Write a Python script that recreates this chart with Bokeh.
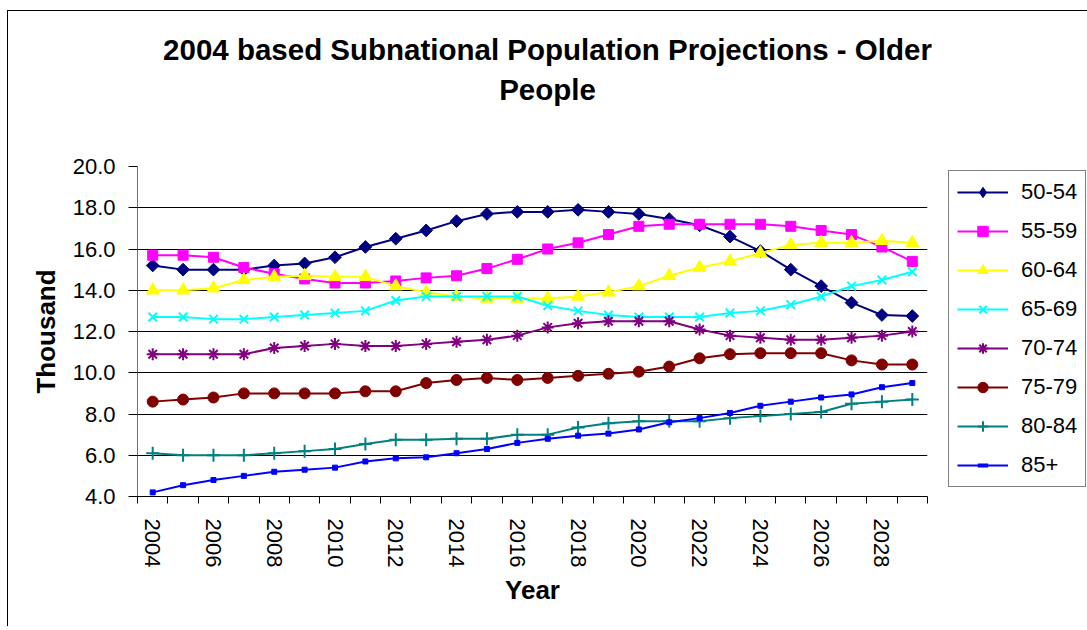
import math
from bokeh.plotting import figure
from bokeh.layouts import column, row
from bokeh.models import (Legend, LegendItem, FixedTicker, NumeralTickFormatter,
                          Range1d, Div)
from bokeh.embed import file_html
from bokeh.resources import INLINE

# ---------------- data ----------------
years = [2004, 2005, 2006, 2007, 2008, 2009, 2010, 2011, 2012, 2013, 2014, 2015, 2016,
         2017, 2018, 2019, 2020, 2021, 2022, 2023, 2024, 2025, 2026, 2027, 2028, 2029]
year_labels = [2004, 2006, 2008, 2010, 2012, 2014, 2016, 2018, 2020, 2022, 2024, 2026, 2028]
y_ticks = [4.0, 6.0, 8.0, 10.0, 12.0, 14.0, 16.0, 18.0, 20.0]

age_50_54 = [15.2, 15.0, 15.0, 15.0, 15.2, 15.3, 15.6, 16.1, 16.5, 16.9, 17.35, 17.7, 17.8,
             17.8, 17.9, 17.8, 17.7, 17.45, 17.15, 16.6, 15.9, 15.0, 14.2, 13.4, 12.8, 12.75]
age_55_59 = [15.7, 15.7, 15.6, 15.1, 14.8, 14.55, 14.35, 14.35, 14.45, 14.6, 14.7, 15.05, 15.5,
             16.0, 16.3, 16.7, 17.1, 17.2, 17.2, 17.2, 17.2, 17.1, 16.9, 16.7, 16.1, 15.4]
age_60_64 = [14.0, 14.0, 14.1, 14.5, 14.65, 14.7, 14.65, 14.65, 14.2, 13.9, 13.7, 13.6, 13.6,
             13.6, 13.7, 13.9, 14.2, 14.7, 15.1, 15.4, 15.8, 16.2, 16.3, 16.3, 16.4, 16.3]
age_65_69 = [12.7, 12.7, 12.6, 12.6, 12.7, 12.8, 12.9, 13.0, 13.5, 13.7, 13.7, 13.7, 13.7,
             13.25, 13.0, 12.8, 12.7, 12.7, 12.7, 12.9, 13.0, 13.3, 13.7, 14.2, 14.5, 14.9]
age_70_74 = [10.9, 10.9, 10.9, 10.9, 11.2, 11.3, 11.4, 11.3, 11.3, 11.4, 11.5, 11.6, 11.8,
             12.2, 12.4, 12.5, 12.5, 12.5, 12.1, 11.8, 11.7, 11.6, 11.6, 11.7, 11.8, 12.0]
age_75_79 = [8.6, 8.7, 8.8, 9.0, 9.0, 9.0, 9.0, 9.1, 9.1, 9.5, 9.65, 9.75, 9.65,
             9.75, 9.85, 9.95, 10.05, 10.3, 10.7, 10.9, 10.95, 10.95, 10.95, 10.6, 10.4, 10.4]
age_80_84 = [6.1, 6.0, 6.0, 6.0, 6.1, 6.2, 6.3, 6.55, 6.75, 6.75, 6.8, 6.8, 7.0,
             7.0, 7.35, 7.55, 7.65, 7.65, 7.65, 7.8, 7.9, 8.0, 8.1, 8.5, 8.6, 8.7]
age_85_plus = [4.2, 4.55, 4.8, 5.0, 5.2, 5.3, 5.4, 5.7, 5.85, 5.9, 6.1, 6.3, 6.6,
               6.8, 6.95, 7.05, 7.25, 7.6, 7.8, 8.05, 8.4, 8.6, 8.8, 8.95, 9.3, 9.5]

series_names = ["50-54", "55-59", "60-64", "65-69", "70-74", "75-79", "80-84", "85+"]
series_values = [age_50_54, age_55_59, age_60_64, age_65_69, age_70_74, age_75_79,
                 age_80_84, age_85_plus]

title_line1 = "2004 based Subnational Population Projections - Older"
title_line2 = "People"

# ---------------- styles ----------------
styles = [
    dict(color="#000080", marker="square", lmarker="diamond", size=9, angle=math.pi / 4, lw=1, llw=1),
    dict(color="#FF00FF", marker="square", lmarker="square", size=10, angle=0, lw=1, llw=1),
    dict(color="#FFFF00", marker="triangle", lmarker="triangle", size=13, angle=0, lw=1, llw=1),
    dict(color="#00FFFF", marker="x", lmarker="x", size=12, angle=0, lw=2, llw=2),
    dict(color="#800080", marker="asterisk", lmarker="asterisk", size=12, angle=0, lw=2, llw=2),
    dict(color="#800000", marker="circle", lmarker="circle", size=11, angle=0, lw=1, llw=1),
    dict(color="#008080", marker="cross", lmarker="cross", size=13, angle=0, lw=2, llw=2),
    dict(color="#0000FF", marker="square", lmarker="dash", size=5, angle=0, lw=1, llw=4),
]

FONT = "Liberation Sans"

# ---------------- title ----------------
title_div = Div(
    text=('<div style="font-family:\'Liberation Sans\'; font-size:29.5px; font-weight:bold; '
          'color:#000; text-align:center; line-height:40px; padding-top:19px; '
          'padding-left:11px; width:1068px; white-space:nowrap;">'
          + title_line1 + '<br>' + title_line2 + '</div>'),
    width=1079, height=99, margin=0)

# ---------------- main plot ----------------
p = figure(width=940, height=516, output_backend="svg", toolbar_location=None,
           x_range=Range1d(2003.5, 2029.5), y_range=Range1d(4, 20),
           min_border_left=129, min_border_top=56, min_border_right=21,
           min_border_bottom=130,
           outline_line_color=None, background_fill_color="white",
           border_fill_color="white", margin=0)

xa = p.xaxis[0]
xa.ticker = FixedTicker(ticks=year_labels,
                        minor_ticks=[y - 0.5 for y in years] + [years[-1] + 0.5])
xa.major_tick_out = 0
xa.major_tick_in = 0
xa.minor_tick_out = 7
xa.minor_tick_in = 0
xa.minor_tick_line_color = "#000000"
xa.major_label_orientation = "vertical"
xa.major_label_standoff = 15
xa.major_label_text_font = FONT
xa.major_label_text_font_size = "22px"
xa.major_label_text_color = "black"
xa.axis_line_color = "#000000"
xa.axis_label = "Year"
xa.axis_label_text_font = FONT
xa.axis_label_text_font_size = "26px"
xa.axis_label_text_font_style = "bold"
xa.axis_label_text_color = "black"
xa.axis_label_standoff = 5

ya = p.yaxis[0]
ya.ticker = FixedTicker(ticks=y_ticks)
ya.formatter = NumeralTickFormatter(format="0.0")
ya.major_tick_out = 9
ya.major_tick_in = 0
ya.minor_tick_out = 0
ya.minor_tick_in = 0
ya.major_tick_line_color = "#000000"
ya.major_label_standoff = 13
ya.major_label_text_font = FONT
ya.major_label_text_font_size = "22px"
ya.major_label_text_color = "black"
ya.axis_line_color = "#707070"
ya.axis_label = "Thousand"
ya.axis_label_text_font = FONT
ya.axis_label_text_font_size = "26px"
ya.axis_label_text_font_style = "bold"
ya.axis_label_text_color = "black"
ya.axis_label_standoff = 9

p.xgrid.visible = False
p.ygrid.ticker = FixedTicker(ticks=y_ticks)
p.ygrid.grid_line_color = "#000000"
p.ygrid.grid_line_width = 1

for vals, st in zip(series_values, styles):
    p.line(years, vals, line_color=st["color"], line_width=2)
    p.scatter(years, vals, marker=st["marker"], size=st["size"], angle=st["angle"],
              fill_color=st["color"], line_color=st["color"], line_width=st["lw"])

# ---------------- legend panel ----------------
lp = figure(width=139, height=516, output_backend="svg", toolbar_location=None,
            x_axis_type=None, y_axis_type=None,
            x_range=Range1d(0, 1), y_range=Range1d(0, 1), min_border=0,
            outline_line_color=None, background_fill_color="white",
            border_fill_color="white", margin=0)
lp.xgrid.visible = False
lp.ygrid.visible = False

items = []
for name, vals, st in zip(series_names, series_values, styles):
    # same series, drawn outside the view of this panel; only used for legend glyphs
    lr = lp.line(years, vals, line_color=st["color"], line_width=2)
    sr = lp.scatter(years, vals, marker=st["lmarker"], size=st["size"],
                    fill_color=st["color"], line_color=st["color"], line_width=st["llw"])
    items.append(LegendItem(label=name, renderers=[lr, sr]))

legend = Legend(items=items, location=(0, 9), margin=0, padding=8,
                glyph_width=51, glyph_height=26, label_height=26, spacing=13,
                label_standoff=13, label_text_font=FONT, label_text_font_size="22px",
                label_text_color="black",
                border_line_color="#000000", border_line_width=1,
                background_fill_color="white", background_fill_alpha=1.0)
lp.add_layout(legend, "center")

layout = column(title_div, row(p, lp, spacing=0), spacing=0,
                styles={"margin-left": "7px", "margin-top": "10px",
                        "border-left": "1px solid #000", "border-top": "1px solid #000"})

open("out.html", "w").write(file_html(layout, INLINE))
